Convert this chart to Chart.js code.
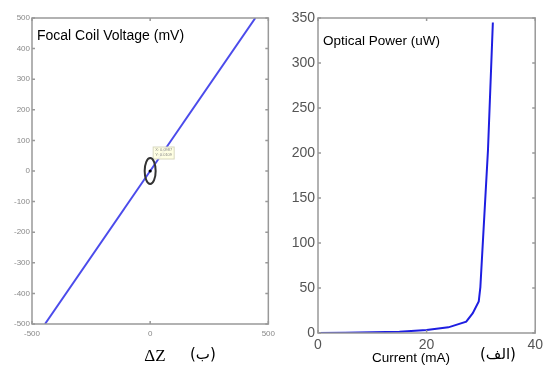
<!DOCTYPE html>
<html>
<head>
<meta charset="utf-8">
<script src="https://cdn.jsdelivr.net/npm/chart.js@4.4.1/dist/chart.umd.min.js"></script>
<style>
  body { margin: 0; background: #fff; width: 547px; height: 374px; position: relative; overflow: hidden; }
  #left { position: absolute; left: 0; top: 0; }
  #right { position: absolute; left: 280px; top: 0; }
  .ar { position: absolute; font-family: "DejaVu Sans"; font-size: 15px; direction: rtl; color: #000; }
</style>
</head>
<body>
<canvas id="left" width="280" height="374"></canvas>
<canvas id="right" width="267" height="374"></canvas>
<span class="ar" style="left:190px; top:345px">(ب)</span>
<span class="ar" style="left:480px; top:345px">(الف)</span>
<script>
// left panel: focal coil voltage vs dz
const dzValues = [-445, 0, 445];
const focalVoltage = [-500, 0, 500];
const dzTicks = [-500, 0, 500];
const voltageTicks = [-500, -400, -300, -200, -100, 0, 100, 200, 300, 400, 500];

// right panel: optical power vs current
const currentValues = [0, 5, 10, 15, 20, 24, 27.3, 28.5, 29.6, 29.9, 31.3, 32.2];
const opticalPower = [0, 0.3, 0.8, 1.5, 3.3, 6.3, 12.6, 22, 35, 51, 203, 345];
const currentTicks = [0, 20, 40];
const powerTicks = [0, 50, 100, 150, 200, 250, 300, 350];

const toPoints = (xs, ys) => xs.map((v, i) => ({x: v, y: ys[i]}));

// box round the plot with small inward ticks (matlab look)
const frame = {
    id: 'frame',
    afterDatasetsDraw(chart, args, o) {
        const {ctx, chartArea: a, scales: {x, y}} = chart;
        ctx.save();
        ctx.strokeStyle = o.color;
        ctx.lineWidth = o.width;
        ctx.strokeRect(a.left, a.top, a.right - a.left, a.bottom - a.top);
        ctx.beginPath();
        y.ticks.forEach(k => {
            const p = y.getPixelForValue(k.value);
            ctx.moveTo(a.left, p); ctx.lineTo(a.left + o.tick, p);
            ctx.moveTo(a.right, p); ctx.lineTo(a.right - o.tick, p);
        });
        x.ticks.forEach(k => {
            const p = x.getPixelForValue(k.value);
            ctx.moveTo(p, a.bottom); ctx.lineTo(p, a.bottom - o.tick);
            ctx.moveTo(p, a.top); ctx.lineTo(p, a.top + o.tick);
        });
        ctx.stroke();
        ctx.restore();
    }
};

const notes = {
    id: 'notes',
    afterDraw(chart, args, o) {
        const ctx = chart.ctx;
        ctx.save();
        o.items.forEach(n => {
            ctx.font = n.font;
            ctx.fillStyle = n.color || '#000';
            ctx.textAlign = n.align || 'left';
            ctx.textBaseline = 'middle';
            ctx.fillText(n.text, n.x, n.y);
        });
        ctx.restore();
    }
};

// data tip marker at the origin
const datatip = {
    id: 'datatip',
    afterDatasetsDraw(chart) {
        const {ctx, scales: {x, y}} = chart;
        const px = x.getPixelForValue(0), py = y.getPixelForValue(0);
        ctx.save();
        ctx.fillStyle = 'rgba(255,255,225,0.95)';
        ctx.strokeStyle = '#d8d8c0';
        ctx.lineWidth = 1;
        ctx.fillRect(px + 3, py - 24, 21, 12);
        ctx.strokeRect(px + 3, py - 24, 21, 12);
        ctx.fillStyle = '#888';
        ctx.font = '4px "Liberation Sans"';
        ctx.textBaseline = 'middle';
        ctx.fillText('X: 0.0987', px + 5, py - 21);
        ctx.fillText('Y: 0.0109', px + 5, py - 16);
        ctx.strokeStyle = '#333';
        ctx.lineWidth = 2;
        ctx.beginPath();
        ctx.ellipse(px, py, 5.5, 13, 0, 0, Math.PI * 2);
        ctx.stroke();
        ctx.fillStyle = '#000';
        ctx.beginPath();
        ctx.arc(px, py, 1.6, 0, Math.PI * 2);
        ctx.fill();
        ctx.restore();
    }
};

new Chart(document.getElementById('left').getContext('2d'), {
    type: 'scatter',
    data: {
        datasets: [{
            data: toPoints(dzValues, focalVoltage),
            showLine: true,
            borderColor: 'rgb(75, 75, 235)',
            borderWidth: 2,
            pointRadius: 0
        }]
    },
    options: {
        responsive: false,
        animation: false,
        layout: {padding: {top: 18, right: 9}},
        plugins: {
            legend: {display: false},
            tooltip: {enabled: false},
            frame: {color: '#999', width: 1.5, tick: 3},
            notes: {items: [
                {text: 'Focal Coil Voltage (mV)', x: 37, y: 36, font: '14px "Liberation Sans"'},
                {text: 'ΔZ', x: 155, y: 357, align: 'center', font: '17px "Liberation Serif"'}
            ]}
        },
        scales: {
            x: {
                type: 'linear', min: -500, max: 500,
                afterBuildTicks: s => { s.ticks = dzTicks.map(v => ({value: v})); },
                afterFit: s => { s.height = 50; },
                grid: {display: false, drawTicks: false},
                border: {display: false},
                ticks: {padding: 5, color: '#888', font: {family: 'Liberation Sans', size: 8}}
            },
            y: {
                type: 'linear', min: -500, max: 500,
                afterBuildTicks: s => { s.ticks = voltageTicks.map(v => ({value: v})); },
                afterFit: s => { s.width = 32; },
                grid: {display: false, drawTicks: false},
                border: {display: false},
                ticks: {padding: 2, color: '#888', font: {family: 'Liberation Sans', size: 8}}
            }
        }
    },
    plugins: [frame, datatip, notes]
});

new Chart(document.getElementById('right').getContext('2d'), {
    type: 'scatter',
    data: {
        datasets: [{
            data: toPoints(currentValues, opticalPower),
            showLine: true,
            borderColor: 'rgb(30, 30, 225)',
            borderWidth: 2,
            pointRadius: 0
        }]
    },
    options: {
        responsive: false,
        animation: false,
        layout: {padding: {top: 18, right: 9}},
        plugins: {
            legend: {display: false},
            tooltip: {enabled: false},
            frame: {color: '#999', width: 1.5, tick: 3},
            notes: {items: [
                {text: 'Optical Power (uW)', x: 43, y: 41, font: '13.5px "Liberation Sans"'},
                {text: 'Current (mA)', x: 131, y: 358, align: 'center', font: '13.5px "Liberation Sans"'}
            ]}
        },
        scales: {
            x: {
                type: 'linear', min: 0, max: 40,
                afterBuildTicks: s => { s.ticks = currentTicks.map(v => ({value: v})); },
                afterFit: s => { s.height = 41; },
                grid: {display: false, drawTicks: false},
                border: {display: false},
                ticks: {padding: 4, color: '#555', font: {family: 'Liberation Sans', size: 14}}
            },
            y: {
                type: 'linear', min: 0, max: 350,
                afterBuildTicks: s => { s.ticks = powerTicks.map(v => ({value: v})); },
                afterFit: s => { s.width = 38; },
                grid: {display: false, drawTicks: false},
                border: {display: false},
                ticks: {padding: 3, color: '#555', font: {family: 'Liberation Sans', size: 14}}
            }
        }
    },
    plugins: [frame, notes]
});
</script>
</body>
</html>
